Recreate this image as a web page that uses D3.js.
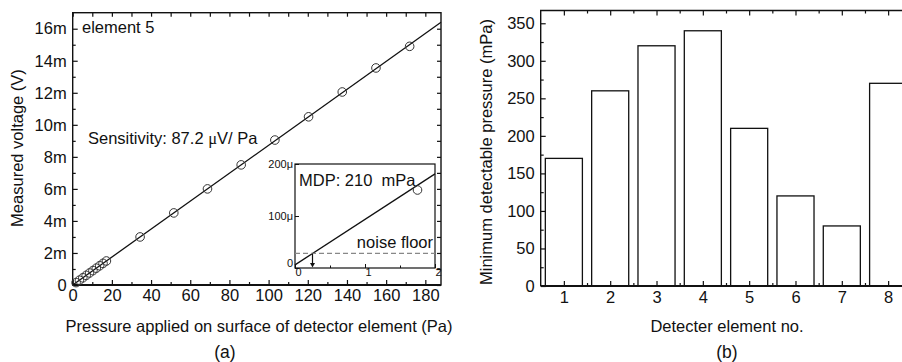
<!DOCTYPE html>
<html>
<head>
<meta charset="utf-8" />
<title>Sensitivity and MDP</title>
<script src="https://d3js.org/d3.v7.min.js"></script>
<style type="text/css">
body { margin: 0; background: #fff; }
svg text { font-family: "Liberation Sans", Arial, sans-serif; fill: #111; }
</style>
</head>
<body>
<div id="svg"></div>
<script type="text/javascript">
// (a) measured voltage vs applied pressure, element 5
var pressure = [1.72, 3.44, 5.16, 6.88, 8.6, 10.32, 12.04, 13.76, 15.48, 17.2,
                34.4, 51.6, 68.8, 86, 103.2, 120.4, 137.6, 154.8, 172];
var voltage = [0.15, 0.30, 0.45, 0.60, 0.75, 0.90, 1.05, 1.20, 1.35, 1.50,
               3.0, 4.5, 6.0, 7.5, 9.05, 10.5, 12.05, 13.55, 14.9];   // mV
var fitLine = [[0, 0], [188, 16.4]];
var voltTicks = ["0", "2m", "4m", "6m", "8m", "10m", "12m", "14m", "16m"];

// inset: low pressure zoom
var insetFit = [[0, 6], [2, 181]];      // µV
var insetPoint = [[1.75, 150]];
var noiseFloor = 28;
var mdp = 0.25;

// (b) minimum detectable pressure per element
var elements = [1, 2, 3, 4, 5, 6, 7, 8];
var mdpValues = [170, 260, 320, 340, 210, 120, 80, 270];

var width = 902, height = 362;
var fs = 16.5;

var svg = d3.select("#svg").append("svg")
    .attr("width", width)
    .attr("height", height);

function styleAxis(g) {
    g.select(".domain").remove();
    g.selectAll("line").attr("stroke", "#111").attr("stroke-width", 1.2);
    g.selectAll("text").attr("font-size", fs).attr("fill", "#111");
}

// ---------- panel (a) ----------
var x = d3.scaleLinear().domain([0, 188]).range([72.7, 441]);
var y = d3.scaleLinear().domain([0, 17]).range([285, 12.7]);

svg.append("g").attr("transform", "translate(0,285)")
    .call(d3.axisBottom(x).tickValues(d3.range(0, 181, 20)).tickSize(-5).tickPadding(4))
    .call(styleAxis);
svg.append("g").attr("transform", "translate(0,285)")
    .call(d3.axisBottom(x).tickValues(d3.range(10, 188, 20)).tickSize(-3).tickFormat(""))
    .call(styleAxis);
svg.append("g").attr("transform", "translate(0,12.7)")
    .call(d3.axisTop(x).tickValues(d3.range(0, 188, 10)).tickSize(-4).tickFormat(""))
    .call(styleAxis);
svg.append("g").attr("transform", "translate(72.7,0)")
    .call(d3.axisLeft(y).tickValues(d3.range(0, 17, 2)).tickSize(-5).tickPadding(6)
        .tickFormat((d, i) => voltTicks[i]))
    .call(styleAxis);
svg.append("g").attr("transform", "translate(72.7,0)")
    .call(d3.axisLeft(y).tickValues(d3.range(1, 17, 2)).tickSize(-3).tickFormat(""))
    .call(styleAxis);
svg.append("g").attr("transform", "translate(441,0)")
    .call(d3.axisRight(y).tickValues(d3.range(0, 17, 1)).tickSize(-4).tickFormat(""))
    .call(styleAxis);

svg.append("rect")
    .attr("x", x(0)).attr("y", y(17))
    .attr("width", x(188) - x(0)).attr("height", y(0) - y(17))
    .attr("fill", "none").attr("stroke", "#111").attr("stroke-width", 1.4);
svg.append("line")
    .attr("x1", x(0)).attr("x2", x(188)).attr("y1", y(0)).attr("y2", y(0))
    .attr("stroke", "#111").attr("stroke-width", 2);

var lineA = d3.line().x(d => x(d[0])).y(d => y(d[1]));
svg.append("path").datum(fitLine)
    .attr("d", lineA).attr("fill", "none").attr("stroke", "#111").attr("stroke-width", 1.3);

svg.selectAll(".pt").data(pressure).enter().append("circle")
    .attr("class", "pt")
    .attr("cx", d => x(d))
    .attr("cy", (d, i) => y(voltage[i]))
    .attr("r", 4.3)
    .attr("fill", "none").attr("stroke", "#333").attr("stroke-width", 1);

svg.append("text").attr("x", 82).attr("y", 33).attr("font-size", fs).text("element 5");
var sens = svg.append("text").attr("x", 88).attr("y", 144).attr("font-size", fs);
sens.append("tspan").text("Sensitivity: 87.2 ");
sens.append("tspan").attr("font-family", "Liberation Serif").text("μ");
sens.append("tspan").text("V/ Pa");

svg.append("text").attr("transform", "translate(23,148) rotate(-90)")
    .attr("text-anchor", "middle").attr("font-size", fs).text("Measured voltage (V)");
svg.append("text").attr("x", 259).attr("y", 332)
    .attr("text-anchor", "middle").attr("font-size", fs)
    .text("Pressure applied on surface of detector element (Pa)");
svg.append("text").attr("x", 225).attr("y", 358)
    .attr("text-anchor", "middle").attr("font-size", 17.5).text("(a)");

// inset
var ix = d3.scaleLinear().domain([0, 2]).range([295, 435]);
var iy = d3.scaleLinear().domain([0, 200]).range([268, 164]);
var inset = svg.append("g");
inset.append("rect")
    .attr("x", ix(0)).attr("y", iy(200))
    .attr("width", ix(2) - ix(0)).attr("height", iy(0) - iy(200))
    .attr("fill", "#fff").attr("stroke", "#111").attr("stroke-width", 1.2);

function styleInset(g) {
    g.select(".domain").remove();
    g.selectAll("line").attr("stroke", "#111").attr("stroke-width", 1);
    g.selectAll("text").attr("font-size", 11).attr("fill", "#111");
}
inset.append("g").attr("transform", "translate(0,268)")
    .call(d3.axisBottom(ix).tickValues([0, 1, 2]).tickSize(-4).tickPadding(0)
        .tickFormat(d3.format("d")))
    .call(styleInset)
    .selectAll("text").attr("dx", 3);
inset.append("g").attr("transform", "translate(0,268)")
    .call(d3.axisBottom(ix).tickValues([0.5, 1.5]).tickSize(-2.5).tickFormat(""))
    .call(styleInset);
inset.append("g").attr("transform", "translate(295,0)")
    .call(d3.axisLeft(iy).tickValues([0, 100, 200]).tickSize(-4).tickPadding(2)
        .tickFormat(d => d === 0 ? "0" : d + "μ"))
    .call(styleInset)
    .selectAll("text").attr("dy", (d) => d === 0 ? "-0.1em" : "0.32em");

var lineI = d3.line().x(d => ix(d[0])).y(d => iy(d[1]));
inset.append("path").datum(insetFit)
    .attr("d", lineI).attr("fill", "none").attr("stroke", "#111").attr("stroke-width", 1.3);
inset.selectAll(".ipt").data(insetPoint).enter().append("circle")
    .attr("cx", d => ix(d[0])).attr("cy", d => iy(d[1])).attr("r", 4.3)
    .attr("fill", "none").attr("stroke", "#333").attr("stroke-width", 1);
inset.append("line")
    .attr("x1", ix(0)).attr("x2", ix(2)).attr("y1", iy(noiseFloor)).attr("y2", iy(noiseFloor))
    .attr("stroke", "#888").attr("stroke-width", 1.2).attr("stroke-dasharray", "5,3");
inset.append("line")
    .attr("x1", ix(mdp)).attr("x2", ix(mdp)).attr("y1", iy(noiseFloor)).attr("y2", iy(0) - 4)
    .attr("stroke", "#111").attr("stroke-width", 1.2);
inset.append("path")
    .attr("d", "M" + (ix(mdp) - 2.5) + "," + (iy(0) - 5) + "L" + (ix(mdp) + 2.5) + "," + (iy(0) - 5) +
        "L" + ix(mdp) + "," + (iy(0) - 0.5) + "Z")
    .attr("fill", "#111");
inset.append("text").attr("x", 299).attr("y", 186).attr("font-size", fs)
    .text("MDP: 210\u00a0\u00a0mPa");
inset.append("text").attr("x", 433).attr("y", 248).attr("text-anchor", "end")
    .attr("font-size", fs).text("noise floor");

// ---------- panel (b) ----------
var bx = d3.scaleLinear().domain([0.5, 8.5]).range([540.7, 911.3]);
var by = d3.scaleLinear().domain([0, 367]).range([286, 10.5]);

svg.selectAll(".bar").data(elements).enter().append("rect")
    .attr("class", "bar")
    .attr("x", d => bx(d - 0.4))
    .attr("width", bx(0.9) - bx(0.1))
    .attr("y", (d, i) => by(mdpValues[i]))
    .attr("height", (d, i) => by(0) - by(mdpValues[i]))
    .attr("fill", "#fff").attr("stroke", "#111").attr("stroke-width", 1.3);

svg.append("g").attr("transform", "translate(0,286)")
    .call(d3.axisBottom(bx).tickValues(elements).tickSize(-5).tickPadding(5).tickFormat(d3.format("d")))
    .call(styleAxis);
svg.append("g").attr("transform", "translate(0,286)")
    .call(d3.axisBottom(bx).tickValues(d3.range(1.5, 8.6, 1)).tickSize(-3).tickFormat(""))
    .call(styleAxis);
svg.append("g").attr("transform", "translate(0,10.5)")
    .call(d3.axisTop(bx).tickValues(elements).tickSize(-5).tickFormat(""))
    .call(styleAxis);
svg.append("g").attr("transform", "translate(0,10.5)")
    .call(d3.axisTop(bx).tickValues(d3.range(1.5, 8.6, 1)).tickSize(-3).tickFormat(""))
    .call(styleAxis);
svg.append("g").attr("transform", "translate(540.7,0)")
    .call(d3.axisLeft(by).tickValues(d3.range(0, 351, 50)).tickSize(-5).tickPadding(6))
    .call(styleAxis);
svg.append("g").attr("transform", "translate(540.7,0)")
    .call(d3.axisLeft(by).tickValues(d3.range(25, 351, 50)).tickSize(-3).tickFormat(""))
    .call(styleAxis);

svg.append("path")
    .attr("d", "M" + bx(8.5) + "," + by(367) + "H" + bx(0.5) + "V" + by(0))
    .attr("fill", "none").attr("stroke", "#111").attr("stroke-width", 1.4);
svg.append("line")
    .attr("x1", bx(0.5)).attr("x2", bx(8.5)).attr("y1", by(0)).attr("y2", by(0))
    .attr("stroke", "#111").attr("stroke-width", 2);

svg.append("text").attr("transform", "translate(492,152) rotate(-90)")
    .attr("text-anchor", "middle").attr("font-size", fs).text("Minimum detectable pressure (mPa)");
svg.append("text").attr("x", 727).attr("y", 332)
    .attr("text-anchor", "middle").attr("font-size", fs).text("Detecter element no.");
svg.append("text").attr("x", 727).attr("y", 358)
    .attr("text-anchor", "middle").attr("font-size", 17.5).text("(b)");
</script>
</body>
</html>
